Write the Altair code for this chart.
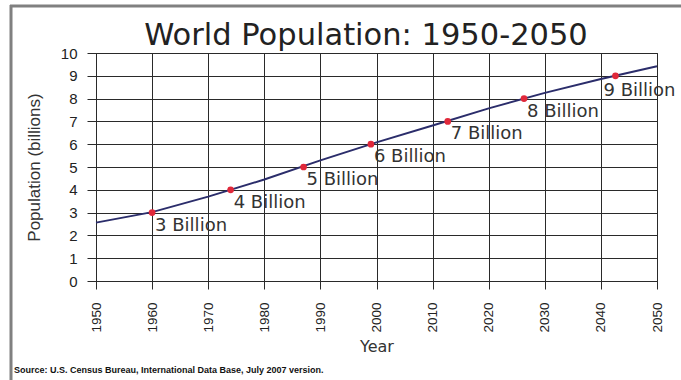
import altair as alt
import pandas as pd

# Line series (billions)
years = [1950, 1960, 1970, 1980, 1990, 2000, 2010, 2020, 2030, 2040, 2050]
population = [2.56, 3.02, 3.70, 4.45, 5.29, 6.08, 6.82, 7.57, 8.25, 8.86, 9.42]

# Milestones
milestone_years = [1960, 1974, 1987, 1999, 2012.7, 2026.3, 2042.6]
milestone_values = [3, 4, 5, 6, 7, 8, 9]
milestone_labels = ["3 Billion", "4 Billion", "5 Billion", "6 Billion",
                    "7 Billion", "8 Billion", "9 Billion"]

x_ticks = list(range(1950, 2051, 10))
y_ticks = list(range(0, 11))

title_text = "World Population: 1950-2050"
source_text = "Source: U.S. Census Bureau, International Data Base, July 2007 version."

line_df = pd.DataFrame({"Year": years, "Population": population})
ms_df = pd.DataFrame({"Year": milestone_years, "Population": milestone_values,
                      "Label": milestone_labels})

GRID = "#2a2a2a"
xscale = alt.Scale(domain=[1950, 2050], nice=False, zero=False)
yscale = alt.Scale(domain=[0, 10], nice=False)

x_axis = alt.Axis(values=x_ticks, format="d", labelAngle=270,
                  labelAlign="right", labelBaseline="middle", labelOverlap=False,
                  labelFont="Liberation Sans", labelFontSize=13.5,
                  labelColor="#222", labelPadding=13, tickSize=8,
                  tickColor=GRID, domainColor=GRID, gridColor=GRID,
                  gridOpacity=1, title="Year", titleFont="DejaVu Sans",
                  titleFontSize=16, titleFontWeight="normal",
                  titleColor="#333", titlePadding=6)
y_axis = alt.Axis(values=y_ticks, labelOverlap=False, labelFont="Liberation Sans",
                  labelFontSize=15, labelColor="#222", labelPadding=10,
                  tickSize=9, tickColor=GRID, domainColor=GRID,
                  gridColor=GRID, gridOpacity=1,
                  title="Population (billions)",
                  titleFont="Liberation Sans", titleFontSize=17,
                  titleFontWeight="normal", titleColor="#333",
                  titlePadding=17)

X = alt.X("Year:Q", scale=xscale, axis=x_axis)
Y = alt.Y("Population:Q", scale=yscale, axis=y_axis)

line = alt.Chart(line_df).mark_line(color="#2b2d6b", strokeWidth=2).encode(x=X, y=Y)

points = alt.Chart(ms_df).mark_circle(color="#e0283a", size=45, opacity=1).encode(
    x=X, y=Y)

labels_main = alt.Chart(ms_df).transform_filter("datum.Population < 9").mark_text(
    align="left", baseline="middle", dx=3, dy=13, font="DejaVu Sans",
    fontSize=18, color="#333").encode(x=X, y=Y, text="Label:N")

labels_last = alt.Chart(ms_df).transform_filter("datum.Population >= 9").mark_text(
    align="left", baseline="middle", dx=-12, dy=15, font="DejaVu Sans",
    fontSize=18, color="#333").encode(x=X, y=Y, text="Label:N")

one = pd.DataFrame({"title": [title_text], "source": [source_text]})

title = alt.Chart(one).mark_text(
    align="center", baseline="alphabetic", font="DejaVu Sans", fontSize=30.5,
    color="#222").encode(x=alt.value(270), y=alt.value(-8), text="title:N")

source = alt.Chart(one).mark_text(
    align="left", baseline="middle", font="Liberation Sans", fontWeight="bold",
    fontSize=9, color="#111").encode(
    x=alt.value(-82), y=alt.value(317), text="source:N")

border_top = alt.Chart(one).mark_rule(
    color="#808080", strokeWidth=3).encode(
    x=alt.value(-86), x2=alt.value(590), y=alt.value(-47))
border_left = alt.Chart(one).mark_rule(
    color="#808080", strokeWidth=3).encode(
    x=alt.value(-85), y=alt.value(-48), y2=alt.value(330))

chart = alt.layer(line, points, labels_main, labels_last, title, source,
                  border_top, border_left).properties(
    width=561, height=228,
    autosize=alt.AutoSizeParams(type="none"),
    padding={"left": 96, "top": 53, "right": 24, "bottom": 99},
    background="white",
).configure_view(stroke=GRID, strokeWidth=1)

chart.save("out.html", embed_options={"renderer": "svg", "actions": False})
